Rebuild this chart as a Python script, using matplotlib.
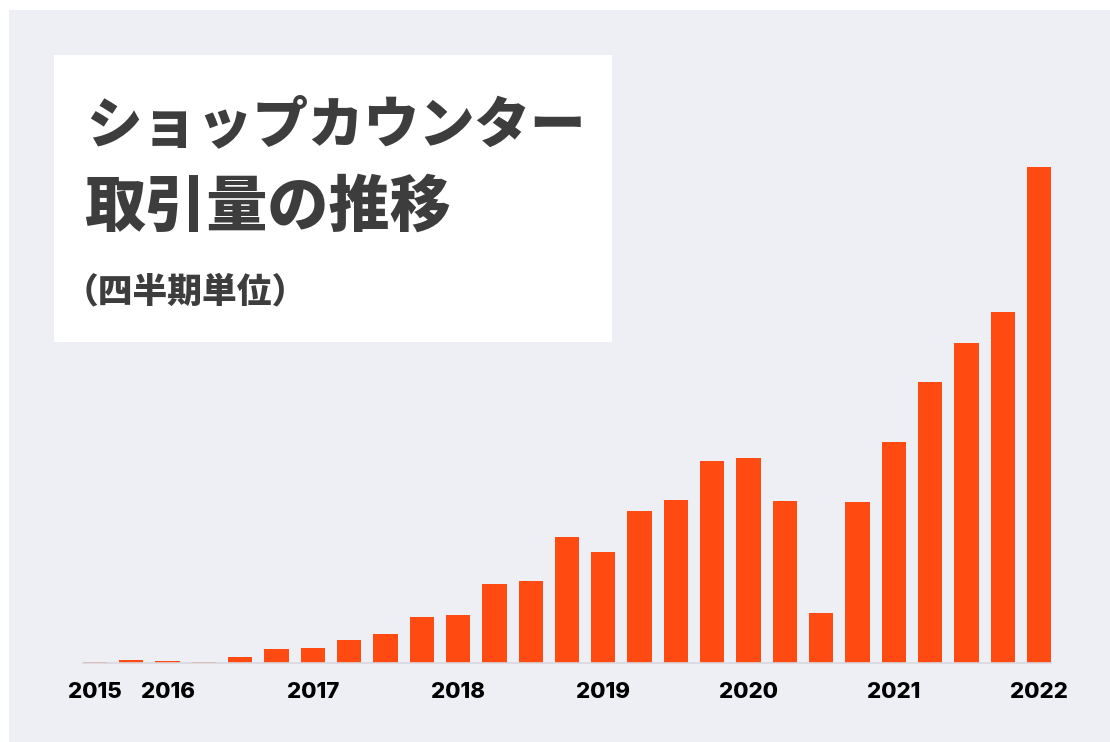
import matplotlib.pyplot as plt
from matplotlib.patches import Rectangle

W, H = 1110, 742

# quarterly volume (relative units)
volume = [1, 3, 2, 1, 6, 14, 15, 23, 29, 46, 48, 79, 82, 126, 111,
          152, 163, 202, 205, 162, 50, 161, 221, 281, 320, 351, 496]
years = ['2015', '2016', '2017', '2018', '2019', '2020', '2021', '2022']
year_pos = [0, 2, 6, 10, 14, 18, 22, 26]

title_lines = ['ショップカウンター', '取引量の推移']
subtitle = '（四半期単位）'

BG = '#EEEFF4'
BAR = '#FF4B11'
INK = '#3D3D3D'
JP = ['Noto Sans CJK JP', 'DejaVu Sans']

fig = plt.figure(figsize=(W / 100, H / 100), dpi=100, facecolor='white')


def box(x0, y0, x1, y1, color, z):
    fig.patches.append(Rectangle((x0 / W, 1 - y1 / H), (x1 - x0) / W, (y1 - y0) / H,
                                 transform=fig.transFigure, facecolor=color,
                                 edgecolor='none', zorder=z))


box(9, 10, W, H, BG, -2)
box(54, 55, 612, 342, 'white', -1)

n = len(volume)
ax = fig.add_axes([82.7 / W, (H - 663) / H, 968.6 / W, 500 / H])
ax.set_facecolor('none')
ax.bar(range(n), volume, width=0.67, color=BAR, zorder=2)
ax.set_xlim(-0.335, n - 1 + 0.335)
ax.set_ylim(0, 500)

for s in ['top', 'right', 'left']:
    ax.spines[s].set_visible(False)
ax.spines['bottom'].set_color('#D8D8DE')
ax.spines['bottom'].set_linewidth(1.2)
ax.set_yticks([])
ax.set_xticks(year_pos)
ax.set_xticklabels(years, fontfamily='Inter', fontweight='heavy', fontsize=16, color='black')
ax.tick_params(axis='x', length=0, pad=14)

fig.text(86 / W, 1 - 126 / H, title_lines[0], family=JP, fontweight='black',
         fontsize=40, color=INK, va='center', ha='left')
fig.text(84 / W, 1 - 208 / H, title_lines[1], family=JP, fontweight='black',
         fontsize=44, color=INK, va='center', ha='left')
fig.text(64 / W, 1 - 292 / H, subtitle, family=JP, fontweight='black',
         fontsize=25, color=INK, va='center', ha='left')

fig.savefig('out.png', dpi=100, facecolor='white')
